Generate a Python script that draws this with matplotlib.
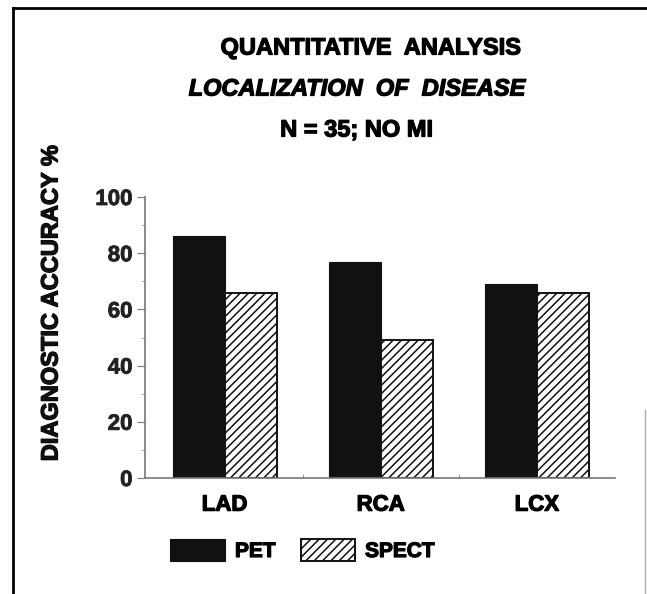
import matplotlib
matplotlib.use("Agg")
import matplotlib.pyplot as plt
import matplotlib.patheffects as pe
from matplotlib.lines import Line2D
import numpy as np

plt.rcParams['font.family'] = ['Liberation Sans', 'DejaVu Sans']
plt.rcParams['hatch.linewidth'] = 1.1
plt.rcParams['hatch.color'] = '#555555'

categories = ['LAD', 'RCA', 'LCX']
pet = [86, 77, 69]
spect = [66, 49, 66]
series_names = ['PET', 'SPECT']
title_lines = ['QUANTITATIVE  ANALYSIS', 'LOCALIZATION  OF  DISEASE', 'N = 35; NO MI']
ylabel = 'DIAGNOSTIC ACCURACY %'

# thicker strokes, the original lettering is very heavy
heavy = [pe.withStroke(linewidth=0.9, foreground='black')]

fig = plt.figure(figsize=(6.47, 5.94), dpi=100)
ax = fig.add_axes([145/647, 1 - 478/594, 470/647, 281/594])

x = np.arange(len(categories))
w = 1/3
ax.bar(x - w/2, pet, w, color='#111111', edgecolor='#111111', linewidth=0.8, label=series_names[0])
ax.bar(x + w/2, spect, w, color='white', edgecolor='#111111', linewidth=1.4, hatch='////', label=series_names[1])

ax.set_xlim(-0.51, 2.5)
ax.set_ylim(0, 100)
ax.set_yticks(range(0, 101, 20))
ax.set_yticks(range(0, 101, 10), minor=True)
ax.set_xticks(x)
ax.set_xticklabels(categories, fontsize=16, fontweight='bold')
ax.set_xticks([0.5, 1.5], minor=True)
ax.tick_params(axis='x', which='major', length=0, pad=12)
ax.tick_params(axis='x', which='minor', length=3, color='#888888', direction='in')
ax.tick_params(axis='y', which='major', length=6, color='#777777', labelsize=16, labelcolor='#222222', pad=3)
ax.tick_params(axis='y', which='minor', length=3, color='#999999')
for lab in ax.get_yticklabels():
    lab.set_fontweight('bold')
    lab.set_path_effects([pe.withStroke(linewidth=0.6, foreground='#222222')])
for lab in ax.get_xticklabels():
    lab.set_path_effects(heavy)
for s in ['top', 'right']:
    ax.spines[s].set_visible(False)
ax.spines['left'].set_color('#777777')
ax.spines['bottom'].set_color('#777777')
ax.spines['left'].set_linewidth(1.2)
ax.spines['bottom'].set_linewidth(1.2)

fig.text(51/647, 1 - 303/594, ylabel, rotation=90, ha='center', va='center',
         fontsize=17, fontweight='bold', color='#111111', path_effects=heavy)

fig.text(371/647, 1 - 48/594, title_lines[0], ha='center', va='center', fontsize=17,
         fontweight='bold', path_effects=heavy)
fig.text(357/647, 1 - 89/594, title_lines[1], ha='center', va='center', fontsize=17,
         fontweight='bold', style='italic', path_effects=heavy)
fig.text(357/647, 1 - 130/594, title_lines[2], ha='center', va='center', fontsize=17,
         fontweight='bold', path_effects=heavy)

leg = fig.legend(loc='center left', bbox_to_anchor=(160/647, 1 - 550/594), ncol=2, frameon=False,
                 prop={'size': 15, 'weight': 'bold'}, handlelength=2.6, handleheight=1.3,
                 handletextpad=0.5, columnspacing=1.2, borderpad=0)
for t in leg.get_texts():
    t.set_path_effects(heavy)

# page frame
fig.add_artist(Line2D([13/647, 13/647], [0, 1 - 8/594], color='black', lw=2))
fig.add_artist(Line2D([13/647, 1], [1 - 8/594, 1 - 8/594], color='black', lw=2))
fig.add_artist(Line2D([645/647, 645/647], [0, 1 - 410/594], color='#aaaaaa', lw=1))

fig.savefig('out.png', dpi=100)
